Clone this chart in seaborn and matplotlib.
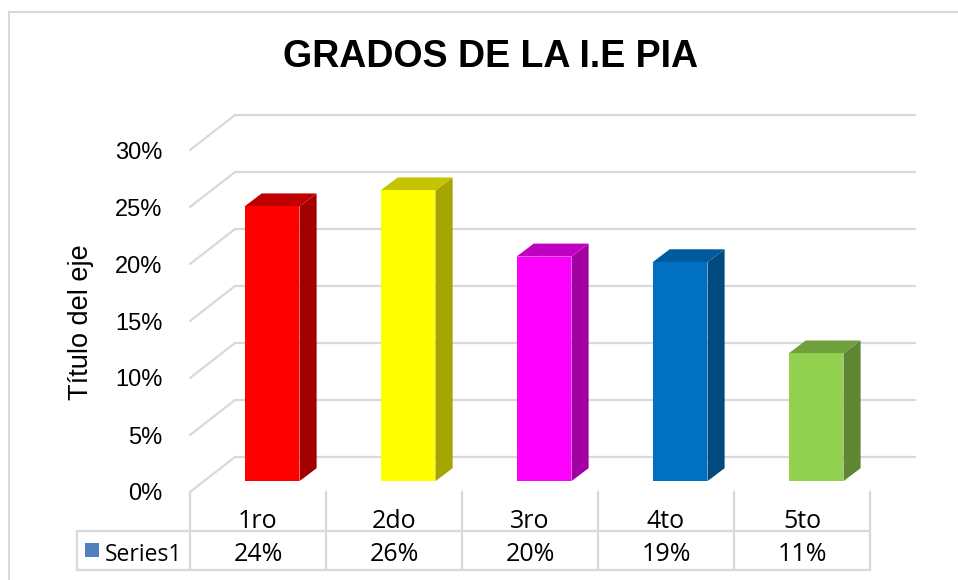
import matplotlib
matplotlib.use("Agg")
import matplotlib.pyplot as plt
import seaborn as sns
from matplotlib.patches import Polygon, Rectangle
from matplotlib.lines import Line2D
from matplotlib.ticker import PercentFormatter
from matplotlib.transforms import blended_transform_factory

# data
grades = ['1ro', '2do', '3ro', '4to', '5to']
shares = [0.241, 0.255, 0.197, 0.192, 0.112]
series_name = 'Series1'
y_ticks = [0, 0.05, 0.10, 0.15, 0.20, 0.25, 0.30]

front_cols = ['#FF0000', '#FFFF00', '#FF00FF', '#0070C0', '#92D050']
side_cols = ['#A50000', '#A5A500', '#A300A3', '#004A7F', '#5F8733']
top_cols = ['#C00000', '#C4C400', '#C200C2', '#005A9E', '#70A03D']

sns.set_style("white")
plt.rcParams['font.family'] = ['Liberation Sans', 'DejaVu Sans']
plt.rcParams['text.color'] = 'black'
plt.rcParams['xtick.color'] = 'black'
plt.rcParams['ytick.color'] = 'black'

GRID = '#D9D9D9'
TABLE_FONT = ['Open Sans', 'DejaVu Sans']
# oblique "3d" offsets in data units (x: categories, y: fraction)
WALL_X, WALL_Y = 0.331, 0.0307   # front edge -> back wall
BAR_X, BAR_Y = 0.103, 0.0095     # front edge -> bar front face
SIDE_X, SIDE_Y = 0.126, 0.0114   # bar depth

fig = plt.figure(figsize=(9.58, 5.8), dpi=100)
ax = fig.add_axes([190 / 958, 1 - 492 / 580, 728 / 958, 380 / 580])

sns.barplot(x=grades, y=shares, hue=grades, palette=front_cols, legend=False,
            width=0.404, saturation=1, linewidth=0, ax=ax, zorder=3)

ax.set_xlim(-0.5, -0.5 + 728 / 136)
ax.set_ylim(0, 380 / 11.4 / 100)

# back wall gridlines + left side diagonals
for t in y_ticks:
    ax.add_line(Line2D([-0.5 + WALL_X, 4.5 + WALL_X], [t + WALL_Y, t + WALL_Y],
                       color=GRID, lw=1.6, zorder=1, clip_on=False))
    ax.add_line(Line2D([-0.5, -0.5 + WALL_X], [t, t + WALL_Y],
                       color=GRID, lw=1.6, zorder=1, clip_on=False))

# shift bars into depth and add side / top faces
for i, p in enumerate(ax.patches):
    p.set_x(p.get_x() + BAR_X)
    p.set_y(BAR_Y)
    x0, x1 = p.get_x(), p.get_x() + p.get_width()
    y0, y1 = BAR_Y, BAR_Y + p.get_height()
    side = Polygon([(x1, y0), (x1 + SIDE_X, y0 + SIDE_Y), (x1 + SIDE_X, y1 + SIDE_Y), (x1, y1)],
                   closed=True, facecolor=side_cols[i], edgecolor='none', zorder=2)
    top = Polygon([(x0, y1), (x1, y1), (x1 + SIDE_X, y1 + SIDE_Y), (x0 + SIDE_X, y1 + SIDE_Y)],
                  closed=True, facecolor=top_cols[i], edgecolor='none', zorder=2)
    ax.add_patch(side)
    ax.add_patch(top)

for s in ax.spines.values():
    s.set_visible(False)
ax.set_yticks(y_ticks)
ax.yaxis.set_major_formatter(PercentFormatter(xmax=1, decimals=0))
ax.tick_params(axis='y', length=0, pad=20, labelsize=17)
ax.set_xticks(range(len(grades)))
ax.set_xticklabels([])
ax.tick_params(axis='x', length=0)
ax.set_xlabel('')
ax.set_ylabel('')

# category row + data table below the plot
tr = blended_transform_factory(ax.transData, fig.transFigure)
y_cat_top, y_row_top, y_row_bot = 1 - 492 / 580, 1 - 531 / 580, 1 - 570 / 580
x_left = -0.5 - 113 / 136
for k in range(len(grades) + 1):
    ax.add_line(Line2D([k - 0.5, k - 0.5], [y_cat_top, y_row_bot], transform=tr,
                       color=GRID, lw=1.6, clip_on=False))
ax.add_line(Line2D([x_left, x_left], [y_row_top, y_row_bot], transform=tr,
                   color=GRID, lw=1.6, clip_on=False))
for yy in (y_row_top, y_row_bot):
    ax.add_line(Line2D([x_left, len(grades) - 0.5], [yy, yy], transform=tr,
                       color=GRID, lw=1.6, clip_on=False))
for i, g in enumerate(grades):
    ax.text(i, 1 - 528 / 580, g, transform=tr, ha='center', va='baseline',
            fontsize=18, family=TABLE_FONT)
y_base = 1 - 561 / 580
for i, v in enumerate(shares):
    ax.text(i, y_base, f'{v:.0%}', transform=tr, ha='center', va='baseline',
            fontsize=18, family=TABLE_FONT)
ax.add_patch(Rectangle((x_left + 8 / 136, 1 - 557 / 580), 14 / 136, 14 / 580,
                       transform=tr, facecolor='#4F81BD', edgecolor='none', clip_on=False))
ax.text(x_left + 28 / 136, y_base, series_name, transform=tr, ha='left', va='baseline',
        fontsize=16.5, family=TABLE_FONT)

# titles and chart border
fig.text(491 / 958, 1 - 67 / 580, 'GRADOS DE LA I.E PIA', ha='center', va='baseline',
         fontsize=27, fontweight='bold')
fig.text(81 / 958, 1 - 322 / 580, 'Título del eje', rotation=90, ha='center', va='center',
         fontsize=19.5)
fig.patches.append(Rectangle((9 / 958, -0.1), 1.2, 1.1 - 12 / 580, transform=fig.transFigure,
                             facecolor='none', edgecolor=GRID, lw=1.5, zorder=0))

plt.savefig('out.png', dpi=100)
